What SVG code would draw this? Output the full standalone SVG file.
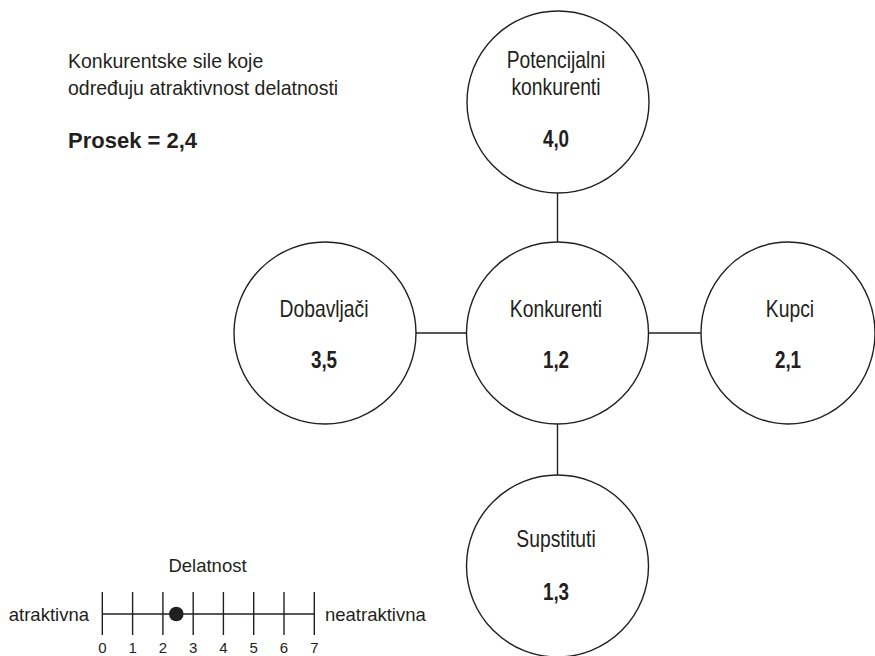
<svg xmlns="http://www.w3.org/2000/svg" width="875" height="656" viewBox="0 0 875 656">
  <style>
    .ring { fill: #ffffff; stroke: #231f20; stroke-width: 1.4; }
    .wire { stroke: #231f20; stroke-width: 1.4; fill: none; }
    text { font-family: "Liberation Sans", "DejaVu Sans", sans-serif; fill: #231f20; }
    .lbl { font-size: 23px; text-anchor: middle; }
    .val { font-size: 23px; font-weight: bold; text-anchor: middle; }
    .note { font-size: 21px; }
    .scale { font-size: 18.5px; }
    .num { font-size: 15px; text-anchor: middle; }
  </style>
  <rect width="875" height="656" fill="#ffffff"/>

  <!-- spokes between the central node and the four outer forces -->
  <g id="connectors">
    <line class="wire" x1="557.5" y1="193" x2="557.5" y2="242"/>
    <line class="wire" x1="557.5" y1="424" x2="557.5" y2="475"/>
    <line class="wire" x1="416" y1="333" x2="467" y2="333"/>
    <line class="wire" x1="648" y1="333" x2="701" y2="333"/>
  </g>

  <!-- labels use a horizontally condensed sans -->
  <g id="potencijalni">
    <circle class="ring" cx="558" cy="102" r="91"/>
    <text class="lbl" transform="translate(556,68) scale(0.84,1)">Potencijalni</text>
    <text class="lbl" transform="translate(556,95) scale(0.84,1)">konkurenti</text>
    <text class="val" transform="translate(556,147) scale(0.82,1)">4,0</text>
  </g>

  <g id="konkurenti">
    <circle class="ring" cx="557.5" cy="333" r="91"/>
    <text class="lbl" transform="translate(556,317) scale(0.84,1)">Konkurenti</text>
    <text class="val" transform="translate(556,368) scale(0.82,1)">1,2</text>
  </g>

  <g id="dobavljaci">
    <circle class="ring" cx="325" cy="333" r="91"/>
    <text class="lbl" transform="translate(324,317) scale(0.84,1)">Dobavljači</text>
    <text class="val" transform="translate(324,368) scale(0.82,1)">3,5</text>
  </g>

  <g id="kupci">
    <ellipse class="ring" cx="788" cy="333" rx="87" ry="91"/>
    <text class="lbl" transform="translate(790,317) scale(0.84,1)">Kupci</text>
    <text class="val" transform="translate(788,368) scale(0.82,1)">2,1</text>
  </g>

  <g id="supstituti">
    <circle class="ring" cx="557.5" cy="566" r="91"/>
    <text class="lbl" transform="translate(556,547) scale(0.84,1)">Supstituti</text>
    <text class="val" transform="translate(556,600) scale(0.82,1)">1,3</text>
  </g>

  <!-- heading and average -->
  <g id="heading">
    <text class="note" transform="translate(68,68) scale(0.93,1)">Konkurentske sile koje</text>
    <text class="note" transform="translate(68,95) scale(0.93,1)">određuju atraktivnost delatnosti</text>
    <text x="68" y="148" font-size="22" font-weight="bold">Prosek = 2,4</text>
  </g>

  <!-- attractiveness scale 0..7 -->
  <g id="scale">
    <text class="scale" x="207.5" y="572" text-anchor="middle">Delatnost</text>
    <text class="scale" x="89" y="621" text-anchor="end">atraktivna</text>
    <text class="scale" x="325" y="621">neatraktivna</text>
    <line class="wire" x1="102.3" y1="614" x2="314.3" y2="614"/>
    <g class="wire">
      <line x1="102.3" y1="592" x2="102.3" y2="635"/>
      <line x1="132.6" y1="592" x2="132.6" y2="635"/>
      <line x1="162.9" y1="592" x2="162.9" y2="635"/>
      <line x1="193.2" y1="592" x2="193.2" y2="635"/>
      <line x1="223.4" y1="592" x2="223.4" y2="635"/>
      <line x1="253.7" y1="592" x2="253.7" y2="635"/>
      <line x1="284" y1="592" x2="284" y2="635"/>
      <line x1="314.3" y1="592" x2="314.3" y2="635"/>
    </g>
    <circle cx="176.3" cy="614" r="7.3" fill="#231f20"/>
    <text class="num" x="102.3" y="653">0</text>
    <text class="num" x="132.6" y="653">1</text>
    <text class="num" x="162.9" y="653">2</text>
    <text class="num" x="193.2" y="653">3</text>
    <text class="num" x="223.4" y="653">4</text>
    <text class="num" x="253.7" y="653">5</text>
    <text class="num" x="284" y="653">6</text>
    <text class="num" x="314.3" y="653">7</text>
  </g>
</svg>
